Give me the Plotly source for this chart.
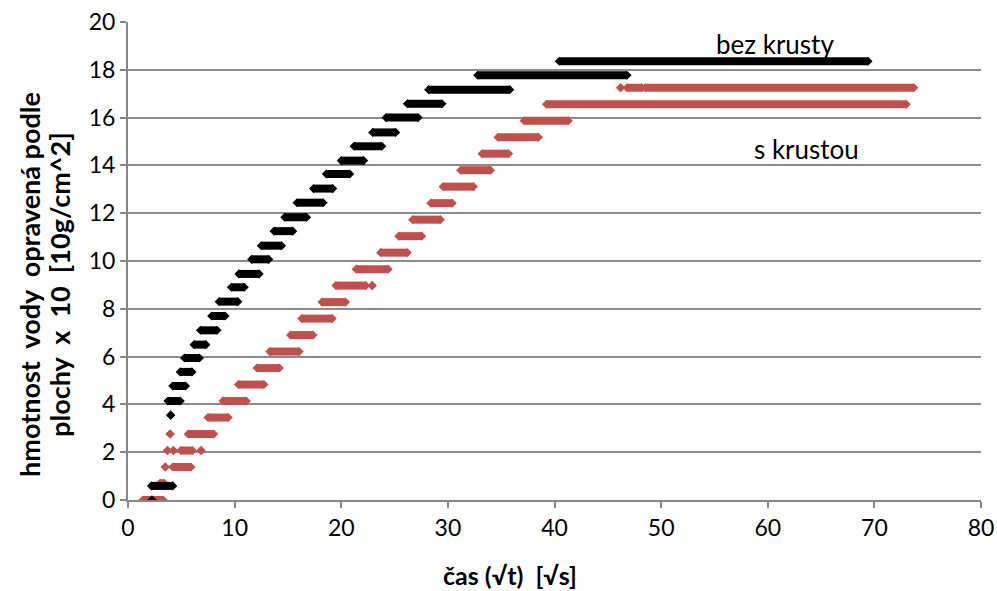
import plotly.graph_objects as go

# Step levels (mass readings) and the time span each reading was held
black_level = [0.0, 0.59, 3.55, 4.14, 4.77, 5.36, 5.94, 6.5, 7.1, 7.7, 8.3, 8.9, 9.46,
               10.07, 10.64, 11.25, 11.83, 12.44, 13.03, 13.64, 14.2, 14.8, 15.38,
               16.0, 16.58, 17.17, 17.77, 18.36]
black_start = [2.25, 2.2, 4.0, 3.75, 4.2, 4.9, 5.3, 6.2, 6.8, 7.85, 8.55, 9.7, 10.4,
               11.6, 12.5, 13.7, 14.7, 15.85, 17.4, 18.6, 20.0, 21.2, 22.95,
               24.2, 26.2, 28.2, 32.8, 40.45]
black_end = [2.25, 4.2, 4.0, 4.9, 5.4, 6.0, 6.7, 7.3, 8.35, 9.1, 10.3, 10.9, 12.3,
             13.2, 14.4, 15.45, 16.75, 18.3, 19.2, 20.8, 22.1, 23.8, 25.1,
             27.2, 29.45, 35.8, 46.8, 69.4]

red_level = [0.0, 0.7, 1.38, 1.38, 2.07, 2.07, 2.07, 2.07, 2.76, 2.76, 3.45, 4.14,
             4.83, 5.52, 6.21, 6.9, 7.59, 8.28, 8.97, 8.97, 9.66, 10.35, 11.04,
             11.73, 12.42, 13.11, 13.8, 14.49, 15.18, 15.87, 16.56, 17.25, 17.25, 17.25]
red_start = [1.4, 3.0, 3.5, 4.2, 3.7, 4.25, 4.95, 6.85, 3.95, 5.65, 7.5, 8.9,
             10.35, 12.1, 13.3, 15.25, 16.3, 18.2, 19.5, 22.9, 21.4, 23.7, 25.4,
             26.7, 28.4, 29.55, 31.2, 33.2, 34.7, 37.15, 39.25, 46.2, 46.8, 48.5]
red_end = [3.3, 3.4, 3.5, 5.9, 3.7, 4.25, 6.05, 6.85, 3.95, 8.05, 9.4, 11.1,
           12.75, 14.2, 16.05, 17.35, 19.15, 20.4, 22.3, 22.9, 24.4, 26.2, 27.55,
           29.3, 30.4, 32.4, 34.0, 35.7, 38.5, 41.3, 73.0, 46.2, 48.2, 73.7]

x_ticks = [0, 10, 20, 30, 40, 50, 60, 70, 80]
y_ticks = [0, 2, 4, 6, 8, 10, 12, 14, 16, 18, 20]

RED = "#C0504D"
FONT = "Lato, Open Sans, sans-serif"


def segments(levels, starts, ends):
    xs, ys = [], []
    for lv, s, e in zip(levels, starts, ends):
        xs += [s, e, None]
        ys += [lv, lv, None]
    return xs, ys


fig = go.Figure()

rx, ry = segments(red_level, red_start, red_end)
fig.add_trace(go.Scatter(
    x=rx, y=ry, mode="lines+markers", name="s krustou",
    line=dict(color=RED, width=8),
    marker=dict(symbol="diamond", size=7, color=RED),
    hoverinfo="skip",
))

bx, by = segments(black_level, black_start, black_end)
fig.add_trace(go.Scatter(
    x=bx, y=by, mode="lines+markers", name="bez krusty",
    line=dict(color="black", width=8),
    marker=dict(symbol="diamond", size=7, color="black"),
    hoverinfo="skip",
))

# series labels inside the plot
fig.add_annotation(x=60.7, y=19.08, text="bez krusty", showarrow=False,
                   font=dict(family=FONT, size=26, color="black"))
fig.add_annotation(x=63.6, y=14.69, text="s krustou", showarrow=False,
                   font=dict(family=FONT, size=26, color="black"))

# axis titles
fig.add_annotation(xref="paper", yref="paper", x=0.448, y=-0.157,
                   xanchor="center", yanchor="middle", showarrow=False,
                   text="<b>čas (√t)&nbsp;&nbsp;[√s]</b>",
                   font=dict(family=FONT, size=25, color="black"))
fig.add_annotation(xref="paper", yref="paper", x=(30 - 128) / 853, y=0.45,
                   xanchor="center", yanchor="middle", showarrow=False, textangle=-90,
                   text="<b>hmotnost&nbsp;&nbsp;vody&nbsp;&nbsp;opravená podle</b>",
                   font=dict(family=FONT, size=27, color="black"))
fig.add_annotation(xref="paper", yref="paper", x=(60 - 128) / 853, y=0.45,
                   xanchor="center", yanchor="middle", showarrow=False, textangle=-90,
                   text="<b>plochy&nbsp;&nbsp;x&nbsp;&nbsp;10&nbsp;&nbsp;[10g/cm^2]</b>",
                   font=dict(family=FONT, size=27, color="black"))

fig.update_layout(
    width=997, height=591,
    margin=dict(l=128, r=16, t=22, b=91),
    plot_bgcolor="white", paper_bgcolor="white",
    showlegend=False,
    font=dict(family=FONT, size=22, color="black"),
)

fig.update_xaxes(
    range=[0, 80], tickvals=x_ticks, showgrid=False, zeroline=False, automargin=False,
    showline=True, linecolor="#878787", linewidth=2,
    ticks="outside", ticklen=6, tickcolor="#878787", tickwidth=2,
    tickfont=dict(family=FONT, size=23),
)
fig.update_yaxes(
    range=[0, 20], tickvals=y_ticks, showgrid=True, gridcolor="#8c8c8c", gridwidth=2,
    zeroline=False, automargin=False, showline=True, linecolor="#878787", linewidth=2,
    ticks="outside", ticklen=6, tickcolor="#878787", tickwidth=2,
    tickfont=dict(family=FONT, size=23),
)

fig.write_html("out.html")
